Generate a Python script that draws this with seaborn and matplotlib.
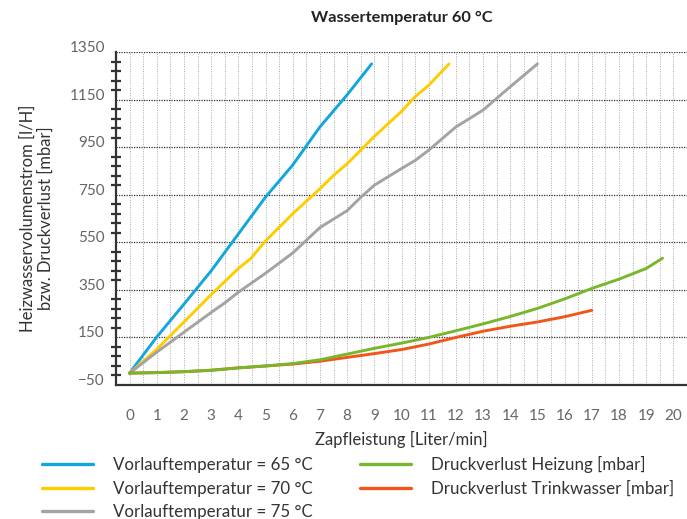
import matplotlib
matplotlib.use('Agg')
import matplotlib.pyplot as plt
from matplotlib.ticker import MultipleLocator, FixedLocator
import pandas as pd
import seaborn as sns

x_65 = [0, 1, 2, 3, 4, 5, 6, 7, 8, 8.9]
y_65 = [0, 152, 290, 430, 585, 740, 875, 1035, 1170, 1300]
x_70 = [0, 1, 2, 3, 4, 4.45, 5, 6, 7, 7.5, 8, 9, 10, 10.5, 11, 11.75]
y_70 = [0, 100, 215, 330, 440, 481, 556, 670, 775, 831, 880, 995, 1100, 1162, 1210, 1300]
x_75 = [0, 1, 2, 3, 3.5, 4, 5, 6, 7, 8, 8.5, 9, 10, 10.5, 11, 12, 12.5, 13, 14, 15]
y_75 = [0, 88, 172, 255, 295, 340, 420, 505, 612, 683, 739, 790, 860, 894, 937, 1035, 1070, 1106, 1204, 1300]
x_heiz = [0, 1, 2, 3, 4, 5, 6, 7, 8, 9, 10, 11, 12, 13, 14, 15, 16, 17, 18, 19, 19.6]
y_heiz = [0, 2, 6, 12, 22, 30, 40, 56, 80, 104, 126, 150, 178, 207, 238, 272, 312, 356, 395, 440, 483]
x_trink = [0, 1, 2, 3, 4, 5, 6, 7, 8, 9, 10, 11, 12, 13, 14, 15, 16, 17]
y_trink = [0, 2, 6, 12, 22, 30, 38, 50, 66, 82, 99, 122, 150, 176, 197, 215, 237, 264]

names = ['Vorlauftemperatur = 65 °C', 'Vorlauftemperatur = 70 °C', 'Vorlauftemperatur = 75 °C',
         'Druckverlust Heizung [mbar]', 'Druckverlust Trinkwasser [mbar]']
colors = ['#12a6dc', '#ffcc00', '#a3a3a3', '#78b72a', '#f0561a']
y_ticks = [-50, 150, 350, 550, 750, 950, 1150, 1350]
x_ticks = list(range(0, 21))

series = [(x_65, y_65), (x_70, y_70), (x_75, y_75), (x_heiz, y_heiz), (x_trink, y_trink)]
frames = []
for name, (xs, ys) in zip(names, series):
    frames.append(pd.DataFrame({'x': xs, 'y': ys, 'serie': name}))
df = pd.concat(frames, ignore_index=True)

sns.set_style('white')
plt.rcParams['font.family'] = ['Lato', 'DejaVu Sans']

fig = plt.figure(figsize=(6.87, 5.19), dpi=100)
ax = fig.add_axes([116 / 687, 1 - 385 / 519, 571 / 687, 333 / 519])

sns.lineplot(data=df, x='x', y='y', hue='serie', hue_order=names,
             palette=dict(zip(names, colors)), sort=False, estimator=None,
             linewidth=2.1, ax=ax)
# green sits on top of the orange one in the low range
ax.lines[3].set_zorder(4)
ax.lines[4].set_zorder(3)

ax.set_xlim(-0.5, 20.5)
ax.set_ylim(-50, 1350)
ax.xaxis.set_major_locator(FixedLocator(x_ticks))
ax.xaxis.set_minor_locator(MultipleLocator(0.5))
ax.yaxis.set_major_locator(FixedLocator(y_ticks))
ax.yaxis.set_minor_locator(MultipleLocator(40, offset=-50))

ax.grid(axis='x', which='both', linestyle=(0, (1, 1.5)), color='#a8a8a8', linewidth=0.7)
ax.grid(axis='y', which='major', linestyle=(0, (1, 1)), color='#333333', linewidth=0.9)
ax.set_axisbelow(True)

for s in ['top', 'right']:
    ax.spines[s].set_visible(False)
for s in ['left', 'bottom']:
    ax.spines[s].set_color('#333333')
    ax.spines[s].set_linewidth(1.6)

ax.tick_params(axis='x', which='both', length=0, pad=17, labelsize=11, labelcolor='#666666')
ax.tick_params(axis='y', which='major', direction='inout', length=8, width=1.6, color='#333333',
               pad=4, labelsize=11, labelcolor='#666666')
ax.tick_params(axis='y', which='minor', direction='inout', length=7, width=1.6, color='#333333', left=True)
ax.set_yticks(y_ticks)
for lab in ax.get_yticklabels():
    lab.set_verticalalignment('baseline')

ax.set_xlabel('Zapfleistung [Liter/min]', fontsize=12, color='#333333', labelpad=6)
ax.set_ylabel('')

fig.text(37 / 687, 1 - 218 / 519, 'Heizwasservolumenstrom [l/H]\nbzw. Druckverlust [mbar]',
         rotation=90, ha='center', va='center', multialignment='center',
         fontsize=12, color='#333333', linespacing=1.15)
fig.text(402 / 687, 1 - 18 / 519, 'Wassertemperatur 60 °C', ha='center', va='center',
         fontsize=11.8, fontweight='bold', color='#222222')

handles, labels = ax.get_legend_handles_labels()
ax.legend_.remove()
for h in handles:
    h.set_linewidth(2.4)
fig.legend(handles, labels, ncol=2, loc='upper left', bbox_to_anchor=(42 / 687, 1 - 456 / 519),
           frameon=False, fontsize=12.2, labelcolor='#333333', handlelength=3.0,
           handletextpad=1.2, columnspacing=2.8, labelspacing=0.45, borderaxespad=0, borderpad=0)

fig.savefig('out.png', dpi=100)
